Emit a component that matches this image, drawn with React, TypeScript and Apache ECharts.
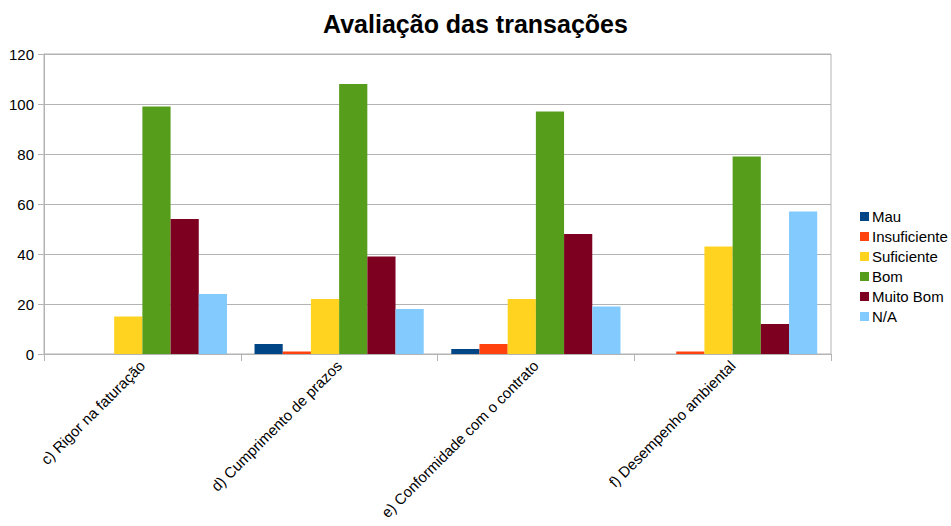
import React, { useEffect, useRef } from "react";
import * as echarts from "echarts";

const categories = [
  "c) Rigor na faturação",
  "d) Cumprimento de prazos",
  "e) Conformidade com o contrato",
  "f) Desempenho ambiental",
];
const seriesNames = ["Mau", "Insuficiente", "Suficiente", "Bom", "Muito Bom", "N/A"];
const mau = [0, 4, 2, 0];
const insuficiente = [0, 1, 4, 1];
const suficiente = [15, 22, 22, 43];
const bom = [99, 108, 97, 79];
const muitoBom = [54, 39, 48, 12];
const na = [24, 18, 19, 57];
const colors = ["#004586", "#ff420e", "#ffd320", "#579d1c", "#7e0021", "#83caff"];

export default function App() {
  const ref = useRef<HTMLDivElement>(null);
  useEffect(() => {
    if (!ref.current) return;
    const chart = echarts.init(ref.current, null, { renderer: "svg" });
    const values = [mau, insuficiente, suficiente, bom, muitoBom, na];
    chart.setOption({
      animation: false,
      textStyle: { fontFamily: "Liberation Sans" },
      title: {
        text: "Avaliação das transações",
        left: "center",
        top: 6,
        textStyle: { fontSize: 25, fontWeight: "bold", color: "#000", fontFamily: "Liberation Sans" },
      },
      legend: {
        orient: "vertical",
        left: 855,
        top: 203,
        itemWidth: 9,
        itemHeight: 9,
        itemGap: 3,
        icon: "rect",
        textStyle: { fontSize: 15, color: "#000", padding: [0, 0, 0, -2], lineHeight: 17 },
        data: seriesNames,
      },
      grid: {
        left: 44,
        right: 120,
        top: 54,
        bottom: 172,
        show: true,
        borderColor: "#b3b3b3",
        borderWidth: 1,
      },
      xAxis: {
        type: "category",
        data: categories,
        axisLine: { lineStyle: { color: "#b3b3b3" } },
        axisTick: { show: true, length: 7, lineStyle: { color: "#b3b3b3" } },
        axisLabel: { rotate: 45, fontSize: 15, color: "#000", margin: 9 },
      },
      yAxis: {
        type: "value",
        min: 0,
        max: 120,
        interval: 20,
        axisLine: { show: true, lineStyle: { color: "#b3b3b3" } },
        axisTick: { show: true, length: 6, lineStyle: { color: "#b3b3b3" } },
        splitLine: { lineStyle: { color: "#b3b3b3" } },
        axisLabel: { fontSize: 15, color: "#000", margin: 10 },
      },
      series: seriesNames.map((name, i) => ({
        name,
        type: "bar",
        data: values[i],
        barGap: "0%",
        barCategoryGap: "14%",
        itemStyle: { color: colors[i] },
      })),
    });
    return () => chart.dispose();
  }, []);
  return <div ref={ref} style={{ width: 951, height: 526, position: "absolute", left: 0, top: 0 }} />;
}
